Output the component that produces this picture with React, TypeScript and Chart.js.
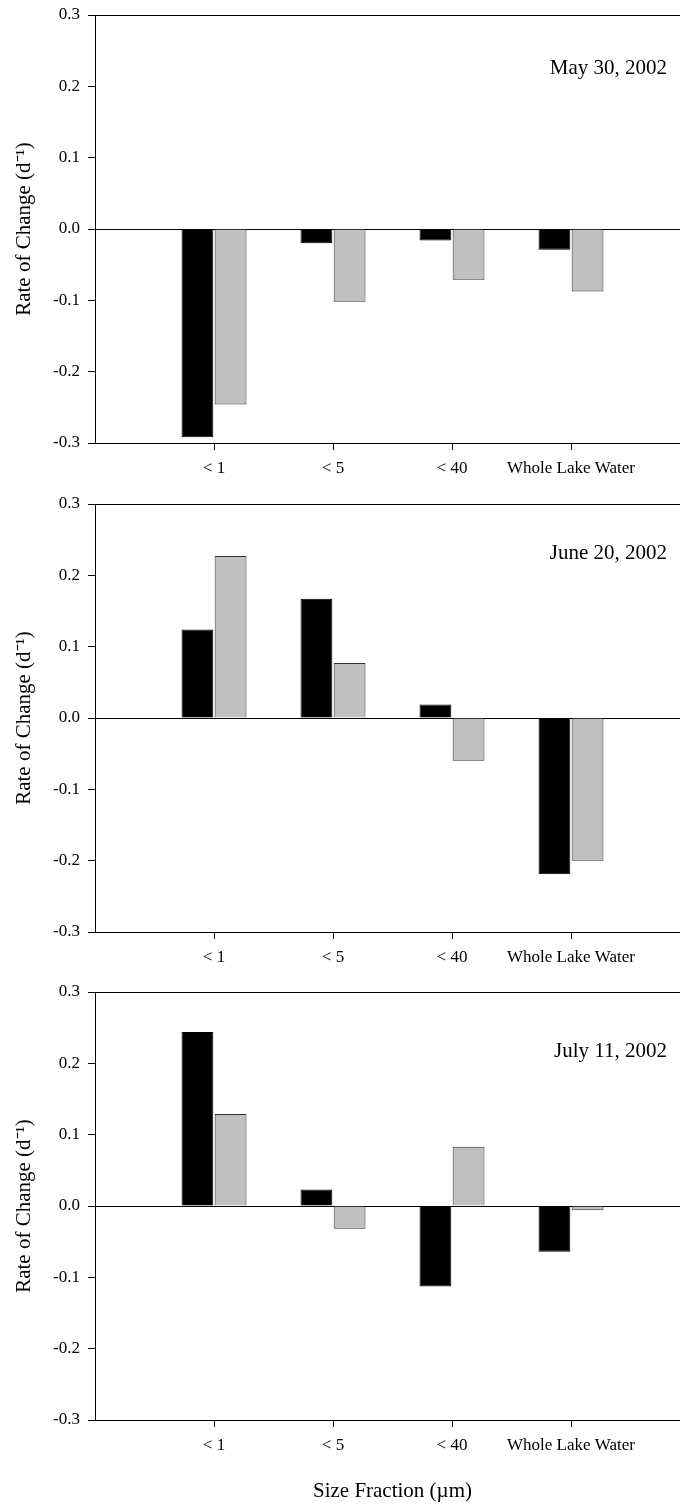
import React, { useEffect, useRef } from 'react';
import { Chart, registerables } from 'chart.js';

Chart.register(...registerables);

// ---- data ----
const FRACTIONS = ['< 1', '< 5', '< 40', 'Whole Lake Water'];
const Y_MIN = -0.3;
const Y_MAX = 0.3;
const Y_STEP = 0.1;

const MAY_BLACK = [-0.292, -0.020, -0.016, -0.029];
const MAY_GRAY = [-0.246, -0.102, -0.071, -0.0875];

const JUNE_BLACK = [0.124, 0.167, 0.019, -0.219];
const JUNE_GRAY = [0.227, 0.077, -0.060, -0.200];

const JULY_BLACK = [0.244, 0.023, -0.113, -0.064];
const JULY_GRAY = [0.129, -0.032, 0.083, -0.006];

const DATES = ['May 30, 2002', 'June 20, 2002', 'July 11, 2002'];
const Y_TITLE = 'Rate of Change (d\u207B\u00B9)';
const X_TITLE = 'Size Fraction (\u00B5m)';

const FONT = "'Liberation Serif', 'Times New Roman', serif";

type PanelProps = {
  top: number;
  height: number;
  black: number[];
  gray: number[];
  date: string;
  dateDy: number;
  xAxisHeight: number;
  showXTitle: boolean;
};

function Panel({ top, height, black, gray, date, dateDy, xAxisHeight, showXTitle }: PanelProps) {
  const ref = useRef<HTMLCanvasElement | null>(null);

  useEffect(() => {
    if (!ref.current) return;
    const labels = ['', ...FRACTIONS, ''];
    const pad = (arr: number[]) => [null, ...arr, null];

    const datePlugin = {
      id: 'dateLabel',
      afterDraw(chart: any) {
        const { ctx, chartArea } = chart;
        ctx.save();
        ctx.font = `21px ${FONT}`;
        ctx.fillStyle = '#000';
        ctx.textAlign = 'right';
        ctx.textBaseline = 'alphabetic';
        ctx.fillText(date, 667, chartArea.top + dateDy);
        ctx.restore();
      },
    };

    const isEdge = (v: number) =>
      Math.abs(v) < 1e-9 || Math.abs(v - Y_MAX) < 1e-9 || Math.abs(v - Y_MIN) < 1e-9;

    const chart = new Chart(ref.current, {
      type: 'bar',
      data: {
        labels,
        datasets: [
          {
            data: pad(black) as any,
            backgroundColor: '#000000',
            borderColor: '#000000',
            borderWidth: 1,
            categoryPercentage: 0.557,
            barPercentage: 0.96,
          },
          {
            data: pad(gray) as any,
            backgroundColor: '#c0c0c0',
            borderColor: '#333333',
            borderWidth: 1,
            categoryPercentage: 0.557,
            barPercentage: 0.96,
          },
        ],
      },
      options: {
        animation: false,
        responsive: false,
        devicePixelRatio: 1,
        layout: { padding: { top: 15, right: 0, bottom: 0, left: 0 } },
        plugins: {
          legend: { display: false },
          tooltip: { enabled: false },
        },
        font: { family: FONT },
        scales: {
          x: {
            type: 'category',
            offset: false,
            grid: {
              offset: false,
              drawOnChartArea: false,
              drawTicks: true,
              tickLength: 7,
              color: (c: any) => (labels[c.index] === '' ? 'rgba(0,0,0,0)' : '#000'),
              tickColor: (c: any) => (labels[c.index] === '' ? 'rgba(0,0,0,0)' : '#000'),
              lineWidth: 1,
            },
            border: { display: true, color: '#000', width: 1 },
            ticks: {
              autoSkip: false,
              maxRotation: 0,
              minRotation: 0,
              padding: 8,
              color: '#000',
              font: { family: FONT, size: 17 },
            },
            title: {
              display: showXTitle,
              text: X_TITLE,
              color: '#000',
              font: { family: FONT, size: 21 },
              padding: { top: 0, bottom: 0 },
            },
            afterFit: (scale: any) => {
              scale.height = xAxisHeight;
              scale.paddingLeft = 0;
              scale.paddingRight = 0;
            },
          },
          y: {
            min: Y_MIN,
            max: Y_MAX,
            grid: {
              drawOnChartArea: true,
              drawTicks: true,
              tickLength: 7,
              color: (c: any) => (c.tick && isEdge(c.tick.value) ? '#000' : 'rgba(0,0,0,0)'),
              tickColor: '#000',
              lineWidth: 1,
            },
            border: { display: true, color: '#000', width: 1 },
            ticks: {
              stepSize: Y_STEP,
              padding: 8,
              color: '#000',
              font: { family: FONT, size: 17 },
              callback: (v: any) => Number(v).toFixed(1),
            },
            title: {
              display: true,
              text: Y_TITLE,
              color: '#000',
              font: { family: FONT, size: 21 },
              padding: { top: 12, bottom: 0 },
            },
            afterFit: (scale: any) => {
              scale.width = 95;
              scale.paddingTop = 0;
              scale.paddingBottom = 0;
            },
          },
        },
      } as any,
      plugins: [datePlugin],
    });
    return () => chart.destroy();
  }, []);

  return (
    <canvas
      ref={ref}
      width={690}
      height={height}
      style={{ position: 'absolute', left: 0, top, width: 690, height, display: 'block' }}
    />
  );
}

export default function App() {
  return (
    <div
      style={{
        position: 'absolute',
        left: 0,
        top: 0,
        width: 680,
        height: 1504,
        overflow: 'hidden',
        background: '#fff',
      }}
    >
      <Panel top={0} height={489} black={MAY_BLACK} gray={MAY_GRAY} date={DATES[0]} dateDy={59} xAxisHeight={46} showXTitle={false} />
      <Panel top={489} height={489} black={JUNE_BLACK} gray={JUNE_GRAY} date={DATES[1]} dateDy={55} xAxisHeight={46} showXTitle={false} />
      <Panel top={977} height={527} black={JULY_BLACK} gray={JULY_GRAY} date={DATES[2]} dateDy={65} xAxisHeight={84} showXTitle={true} />
    </div>
  );
}
